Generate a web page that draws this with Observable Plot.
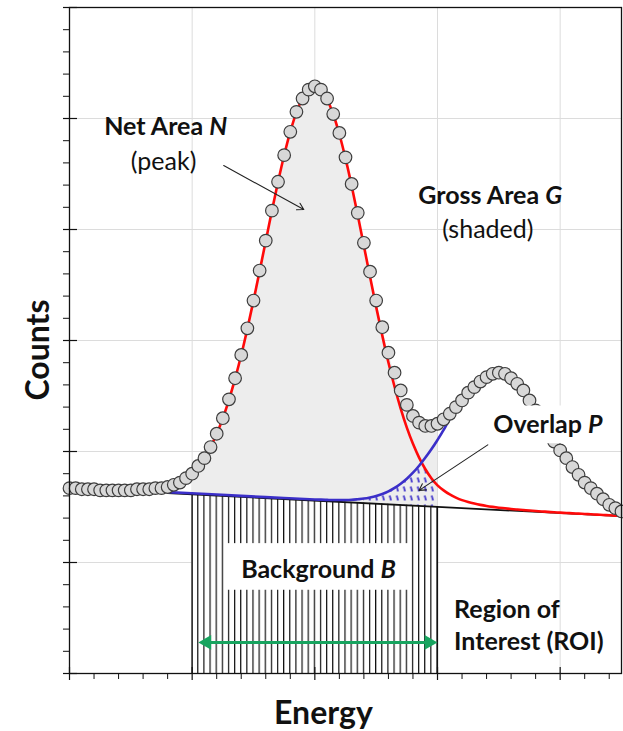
<!DOCTYPE html>
<html>
<head>
<meta charset="utf-8">
<script src="https://cdn.jsdelivr.net/npm/d3@7"></script>
<script src="https://cdn.jsdelivr.net/npm/@observablehq/plot@0.6"></script>
<style>html,body{margin:0;padding:0;background:#fff}</style>
</head>
<body>
<div id="chart"></div>
<script>
// ---- data (energy in major-tick units, counts in major-tick units) ----
const energy = [0,0.05,0.1,0.15,0.2,0.25,0.3,0.35,0.4,0.45,0.5,0.55,0.6,0.65,0.7,0.75,
  0.8,0.85,0.9,0.95,1,1.05,1.1,1.15,1.2,1.25,1.3,1.35,1.4,1.45,1.5,1.55,1.6,1.65,1.7,1.75,
  1.8,1.85,1.9,1.95,2,2.05,2.1,2.15,2.2,2.25,2.3,2.35,2.4,2.45,2.5,2.55,2.6,2.65,2.7,2.75,
  2.8,2.85,2.9,2.95,3,3.05,3.1,3.15,3.2,3.25,3.3,3.35,3.4,3.45,3.5,3.55,3.6,3.65,3.7,3.75,
  3.8,3.85,3.9,3.95,4,4.05,4.1,4.15,4.2,4.25,4.3,4.35,4.4,4.45,4.5];
const counts = [1.67,1.67,1.66,1.66,1.66,1.65,1.65,1.65,1.65,1.65,1.65,1.66,1.66,1.66,1.67,1.67,
  1.68,1.70,1.72,1.76,1.80,1.87,1.94,2.04,2.16,2.30,2.47,2.66,2.87,3.11,3.36,3.63,3.90,4.17,4.43,4.67,
  4.88,5.06,5.18,5.26,5.29,5.26,5.18,5.04,4.87,4.65,4.41,4.15,3.88,3.62,3.36,3.12,2.89,2.71,2.55,2.42,
  2.32,2.26,2.23,2.23,2.25,2.29,2.34,2.40,2.46,2.53,2.58,2.63,2.67,2.70,2.71,2.70,2.66,2.61,2.55,2.46,
  2.37,2.27,2.17,2.09,2.01,1.94,1.86,1.79,1.72,1.67,1.62,1.57,1.52,1.49,1.46];

// main peak fit (red)
const peakEnergy = [0.8,0.85,0.9,0.95,1,1.05,1.1,1.15,1.2,1.25,1.3,1.35,1.4,1.45,1.5,1.55,1.6,1.65,1.7,1.75,
  1.8,1.85,1.9,1.95,2,2.05,2.1,2.15,2.2,2.25,2.3,2.35,2.4,2.45,2.5,2.55,2.6,2.65,2.7,2.75,
  2.8,2.85,2.9,2.95,3,3.05,3.1,3.15,3.2,3.25,3.3,3.35,3.4,3.45,3.5,3.55,3.6,3.65,3.7,3.75,
  3.8,3.85,3.9,3.95,4,4.05,4.1,4.15,4.2,4.25,4.3,4.35,4.4,4.45,4.5];
const peakFit = [1.676,1.695,1.721,1.757,1.805,1.866,1.943,2.040,2.159,2.300,2.465,2.656,2.869,3.106,3.359,3.625,3.897,4.168,4.428,4.669,
  4.881,5.055,5.184,5.262,5.288,5.257,5.173,5.038,4.858,4.641,4.395,4.129,3.852,3.574,3.303,3.044,2.802,2.583,2.386,2.215,
  2.069,1.945,1.842,1.759,1.695,1.650,1.613,1.585,1.562,1.545,1.531,1.519,1.509,1.501,1.494,1.488,1.482,1.477,1.472,1.468,
  1.464,1.460,1.456,1.452,1.449,1.446,1.443,1.440,1.437,1.434,1.431,1.428,1.425,1.422,1.419];

// second peak fit (blue)
const secondEnergy = [0.8,1.2,1.6,2,2.05,2.1,2.15,2.2,2.25,2.3,2.35,2.4,2.45,2.5,2.55,2.6,2.65,2.7,2.75,
  2.8,2.85,2.9,2.95,3,3.05,3.1,3.15];
const secondFit = [1.625,1.603,1.580,1.559,1.557,1.555,1.554,1.554,1.554,1.556,1.561,1.567,1.577,1.590,1.608,1.632,1.663,1.701,1.746,
  1.800,1.863,1.934,2.011,2.095,2.185,2.290,2.400];

// linear background
const bgEnergy = [0.8, 4.5];
const bgCounts = [1.625, 1.417];

// region of interest
const roi = [1.0, 3.0];

// axis ticks (no labels)
const xMajor = [0,1,2,3,4];
const yMajor = [0,1,2,3,4,5,6];
const xMinor = d3.range(0, 4.51, 0.2).filter(v => Math.abs(v - Math.round(v)) > 1e-6);
const yMinor = d3.range(0, 6.01, 0.2).filter(v => Math.abs(v - Math.round(v)) > 1e-6);

// texts
const annot = ["Net Area N", "(peak)", "Gross Area G", "(shaded)", "Overlap P", "Background B", "Region of", "Interest (ROI)"];
const axisTitles = ["Counts", "Energy"];

// ---- derived tables ----
const pts = energy.map((e, i) => ({e, c: counts[i]}));
const red = peakEnergy.map((e, i) => ({e, c: peakFit[i]}));
const blue = secondEnergy.map((e, i) => ({e, c: secondFit[i]}));
const bgLine = bgEnergy.map((e, i) => ({e, c: bgCounts[i]}));
const redAt = new Map(red.map(d => [d.e.toFixed(2), d.c]));
const overlap = blue.filter(d => d.e >= 2.4 && d.e <= roi[1] + 1e-9)
  .map(d => ({e: d.e, c: Math.min(d.c, redAt.get(d.e.toFixed(2)))}));
const bgAt = d3.scaleLinear(bgEnergy, bgCounts);
const roiBg = roi.map(e => ({e, c: bgAt(e)}));
const shade = pts.filter(d => d.e >= roi[0] - 1e-9 && d.e <= roi[1] + 1e-9);

const ink = "#111111";
const green = "#17a45f";
const bold = {fontFamily: "Lato", fontWeight: "bold", fontSize: 25, fill: ink, text: d => d};
const reg = {fontFamily: "Lato", fontWeight: "normal", fontSize: 25, fill: ink, text: d => d};

const svg = Plot.plot({
  width: 623,
  height: 731,
  marginLeft: 69,
  marginRight: 2,
  marginTop: 7,
  marginBottom: 58,
  x: {domain: [0, 4.5], axis: null},
  y: {domain: [0, 6], axis: null},
  style: {fontFamily: "Lato, sans-serif", background: "white", overflow: "visible"},
  marks: [
    Plot.ruleY(yMajor.slice(1, -1), {stroke: "#dcdcdc", strokeWidth: 1}),
    Plot.ruleX(xMajor.slice(1), {stroke: "#dcdcdc", strokeWidth: 1}),
    Plot.areaY(shade, {x: "e", y: "c", fill: "#ededed", curve: "catmull-rom"}),
    Plot.areaY(overlap, {x: "e", y: "c", fill: "url(#ovHatch)", curve: "catmull-rom"}),
    Plot.areaY(roiBg, {x: "e", y: "c", fill: "url(#bgHatch)"}),
    Plot.ruleX(roiBg, {x: "e", y1: 0, y2: "c", stroke: ink, strokeWidth: 1.2}),
    Plot.rect([annot[5]], {x1: 1.28, x2: 2.77, y1: 0.75, y2: 1.17, fill: "white"}),
    Plot.text([annot[5]], {...bold, x: 2.03, y: 0.93}),
    Plot.ruleY([0.28], {x1: 1.12, x2: 2.93, stroke: green, strokeWidth: 3}),
    Plot.dot([{e: 1.12, r: -90}, {e: 2.93, r: 90}], {x: "e", y: 0.28, symbol: "triangle", fill: green, r: 5.5, rotate: "r"}),
    Plot.line(bgLine, {x: "e", y: "c", stroke: ink, strokeWidth: 1.8}),
    Plot.line(red, {x: "e", y: "c", stroke: "#ff0a0a", strokeWidth: 2.6, curve: "catmull-rom"}),
    Plot.line(blue, {x: "e", y: "c", stroke: "#3b2fc9", strokeWidth: 2.6, curve: "catmull-rom", dy: -1}),
    Plot.dot(pts, {x: "e", y: "c", r: 6.3, fill: "#d8d8d8", stroke: "#3d3d3d", strokeWidth: 1.2}),
    Plot.rect([annot[4]], {x1: 3.41, x2: 4.39, y1: 2.07, y2: 2.41, fill: "white"}),
    Plot.text([annot[4]], {...bold, x: 3.90, y: 2.24}),
    Plot.arrow([0], {x1: 1.257, y1: 4.576, x2: 1.91, y2: 4.18, stroke: "#222", strokeWidth: 1.1, headLength: 10}),
    Plot.arrow([0], {x1: 3.41, y1: 2.06, x2: 2.85, y2: 1.65, stroke: "#222", strokeWidth: 1.1, headLength: 10}),
    Plot.text([annot[0]], {...bold, x: 0.784, y: 4.92}),
    Plot.text([annot[1]], {...reg, x: 0.767, y: 4.61}),
    Plot.text([annot[2]], {...bold, x: 3.43, y: 4.30}),
    Plot.text([annot[3]], {...reg, x: 3.41, y: 4.00}),
    Plot.text([annot[6]], {...bold, x: 3.135, y: 0.57, textAnchor: "start"}),
    Plot.text([annot[7]], {...bold, x: 3.135, y: 0.28, textAnchor: "start"}),
    Plot.frame({stroke: ink, strokeWidth: 1.3}),
    Plot.ruleX(xMinor, {x: d => d, y1: -0.054, y2: 0, stroke: ink, strokeWidth: 1}),
    Plot.ruleX(xMajor, {x: d => d, y1: -0.063, y2: 0.054, stroke: ink, strokeWidth: 1.2}),
    Plot.ruleY(yMinor, {y: d => d, x1: -0.049, x2: 0, stroke: ink, strokeWidth: 1}),
    Plot.ruleY(yMajor, {y: d => d, x1: -0.049, x2: 0.065, stroke: ink, strokeWidth: 1.2}),
    Plot.text([axisTitles[0]], {...bold, fontSize: 32, x: -0.25, y: 2.915, rotate: -90}),
    Plot.text([axisTitles[1]], {...bold, fontSize: 32, x: 2.07, y: -0.36})
  ]
});

// hatch patterns aligned to the x scale
const xs = svg.scale("x");
const x0 = xs.apply(roi[0]);
const step = xs.apply(energy[1]) - xs.apply(energy[0]);
const defs = d3.select(svg).insert("defs", ":first-child");
const p1 = defs.append("pattern").attr("id", "bgHatch").attr("patternUnits", "userSpaceOnUse")
  .attr("x", x0 - 0.6).attr("y", 0).attr("width", step).attr("height", 10);
p1.append("rect").attr("width", step).attr("height", 10).attr("fill", "white");
p1.append("rect").attr("x", 0).attr("width", 1.2).attr("height", 10).attr("fill", ink);
const p2 = defs.append("pattern").attr("id", "ovHatch").attr("patternUnits", "userSpaceOnUse")
  .attr("x", x0).attr("y", 0).attr("width", 7).attr("height", 9);
p2.append("line").attr("x1", 2).attr("y1", 0.5).attr("x2", 3.4).attr("y2", 5.5)
  .attr("stroke", "#3b2fc9").attr("stroke-width", 1.7);

// italic variable letters
const italicLabels = new Set([annot[0], annot[2], annot[4], annot[5]]);
d3.select(svg).selectAll("text").each(function () {
  const t = this.textContent;
  if (italicLabels.has(t)) {
    const s = d3.select(this);
    s.text(null);
    s.append("tspan").text(t.slice(0, -1));
    s.append("tspan").attr("font-style", "italic").text(t.slice(-1));
  }
});

document.getElementById("chart").appendChild(svg);
</script>
</body>
</html>
